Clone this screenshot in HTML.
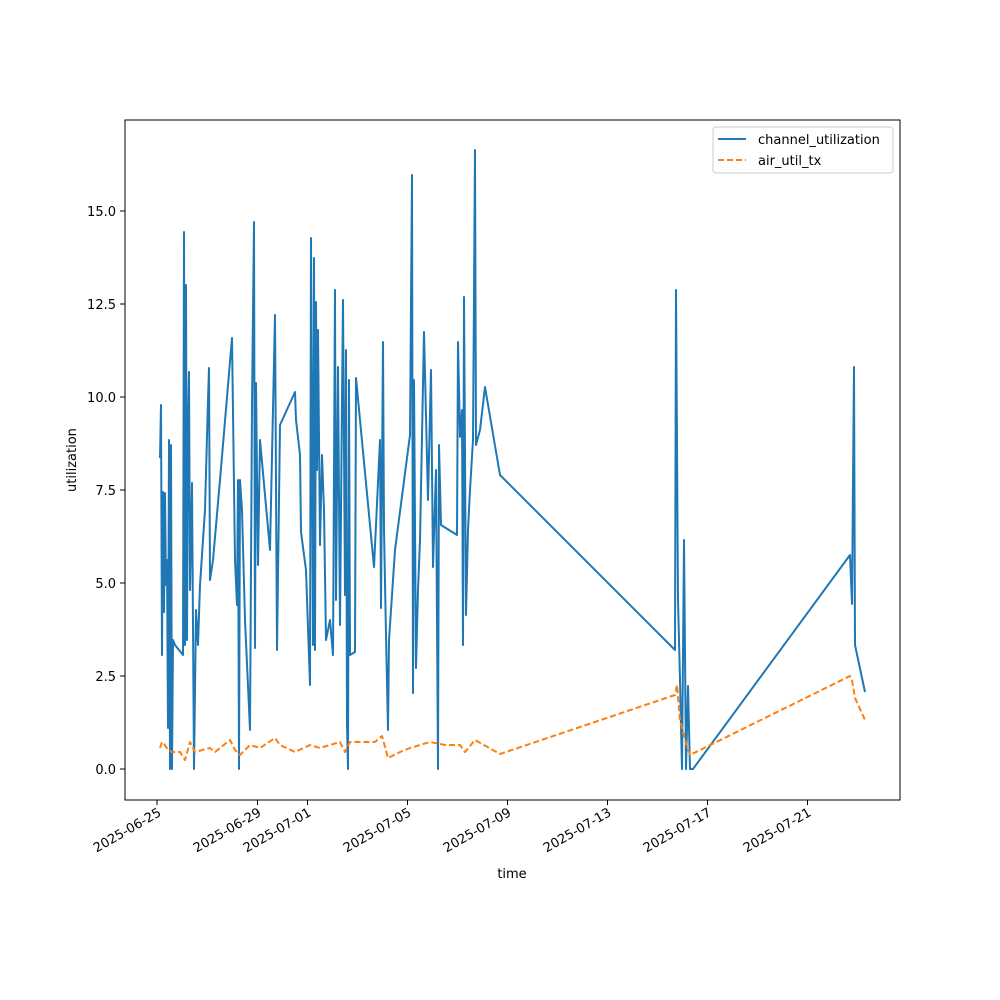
<!DOCTYPE html>
<html><head><style>body{margin:0;background:#fff}svg{display:block}text{font-family:"DejaVu Sans","Liberation Sans",sans-serif;font-size:13px;fill:#000}</style></head>
<body>
<svg width="1000" height="1000" viewBox="0 0 1000 1000">
<rect width="1000" height="1000" fill="#fff"/>
<g fill="none" stroke-linejoin="round">
<polyline stroke="#1f77b4" stroke-width="2" points="160,458 161,405 162,655 163,492 164,612 165,493 166,585 167,560 168,728 169,440 170,769 171,445 172,769 173,640 175,645 183,655 184,232 185,645 186,285 187,640 188,425 189,372 190,590 192,483 194,769 196,610 198,645 200,585 205,510 208,400 209,368 210,580 213,560 220,480 232,338 235,560 237,605 238,480 239,769 240,480 242,510 245,620 250,730 252,405 254,222 255,648 256,383 258,565 260,440 270,550 275,315 277,650 280,425 295,392 296,420 300,455 301,532 306,570 310,685 311,238 313,645 314,258 315,650 316,302 317,470 318,330 320,545 322,455 324,510 326,640 330,620 333,655 335,290 336,600 338,367 340,625 342,400 343,300 345,595 346,350 347,725 348,769 349,380 350,655 355,652 356,378 374,567 380,440 381,608 383,342 384,530 386,635 388,730 389,640 395,550 410,435 412,175 413,693 414,380 416,668 418,590 420,540 424,332 428,500 431,370 433,567 436,470 438,769 439,445 441,525 457,535 458,342 460,437 462,410 463,645 464,297 466,615 468,530 470,490 473,440 475,150 476,445 480,430 485,387 500,475 675,650 676,290 678,600 680,680 682,769 684,540 686,769 688,686 690,769 693,769 850,555 852,604 853,482 854,367 855,645 865,692"/>
<polyline stroke="#ff7f0e" stroke-width="2" stroke-dasharray="6,3" points="160,748 162,742 165,745 168,750 172,752 180,752 185,760 190,742 195,752 210,748 215,752 230,740 235,750 240,755 250,745 260,748 275,738 280,745 295,752 310,745 320,748 330,745 340,742 345,752 350,742 360,742 375,742 382,736 388,758 400,752 410,748 430,742 445,745 460,745 465,752 475,740 500,754 675,695 677,685 680,720 685,740 690,755 850,676 852,680 855,698 865,720"/>
</g>
<rect x="125" y="120" width="775" height="680" fill="none" stroke="#000" stroke-width="1"/>
<g stroke="#000">
<line x1="120" y1="769" x2="125" y2="769"/><line x1="120" y1="676" x2="125" y2="676"/><line x1="120" y1="583" x2="125" y2="583"/><line x1="120" y1="490" x2="125" y2="490"/><line x1="120" y1="397" x2="125" y2="397"/><line x1="120" y1="304" x2="125" y2="304"/><line x1="120" y1="211" x2="125" y2="211"/>
<line x1="157" y1="800" x2="157" y2="805"/><line x1="257.5" y1="800" x2="257.5" y2="805"/><line x1="307.5" y1="800" x2="307.5" y2="805"/><line x1="407.5" y1="800" x2="407.5" y2="805"/><line x1="507.5" y1="800" x2="507.5" y2="805"/><line x1="607.5" y1="800" x2="607.5" y2="805"/><line x1="707.5" y1="800" x2="707.5" y2="805"/><line x1="807.5" y1="800" x2="807.5" y2="805"/>
</g>
<g text-anchor="end">
<text x="116" y="774">0.0</text><text x="116" y="681">2.5</text><text x="116" y="588">5.0</text><text x="116" y="495">7.5</text><text x="116" y="402">10.0</text><text x="116" y="309">12.5</text><text x="116" y="216">15.0</text>
<text transform="translate(162,815) rotate(-30)">2025-06-25</text>
<text transform="translate(262,815) rotate(-30)">2025-06-29</text>
<text transform="translate(312,815) rotate(-30)">2025-07-01</text>
<text transform="translate(412,815) rotate(-30)">2025-07-05</text>
<text transform="translate(512,815) rotate(-30)">2025-07-09</text>
<text transform="translate(612,815) rotate(-30)">2025-07-13</text>
<text transform="translate(712,815) rotate(-30)">2025-07-17</text>
<text transform="translate(812,815) rotate(-30)">2025-07-21</text>
</g>
<text x="512" y="878" text-anchor="middle">time</text>
<text transform="translate(76,460) rotate(-90)" text-anchor="middle">utilization</text>
<rect x="713" y="127" width="180" height="46" rx="3" fill="#fff" stroke="#ccc"/>
<line x1="718" y1="139" x2="746" y2="139" stroke="#1f77b4" stroke-width="2"/>
<line x1="718" y1="160" x2="746" y2="160" stroke="#ff7f0e" stroke-width="2" stroke-dasharray="6,3"/>
<text x="758" y="144">channel_utilization</text>
<text x="758" y="165">air_util_tx</text>
</svg>
</body></html>
